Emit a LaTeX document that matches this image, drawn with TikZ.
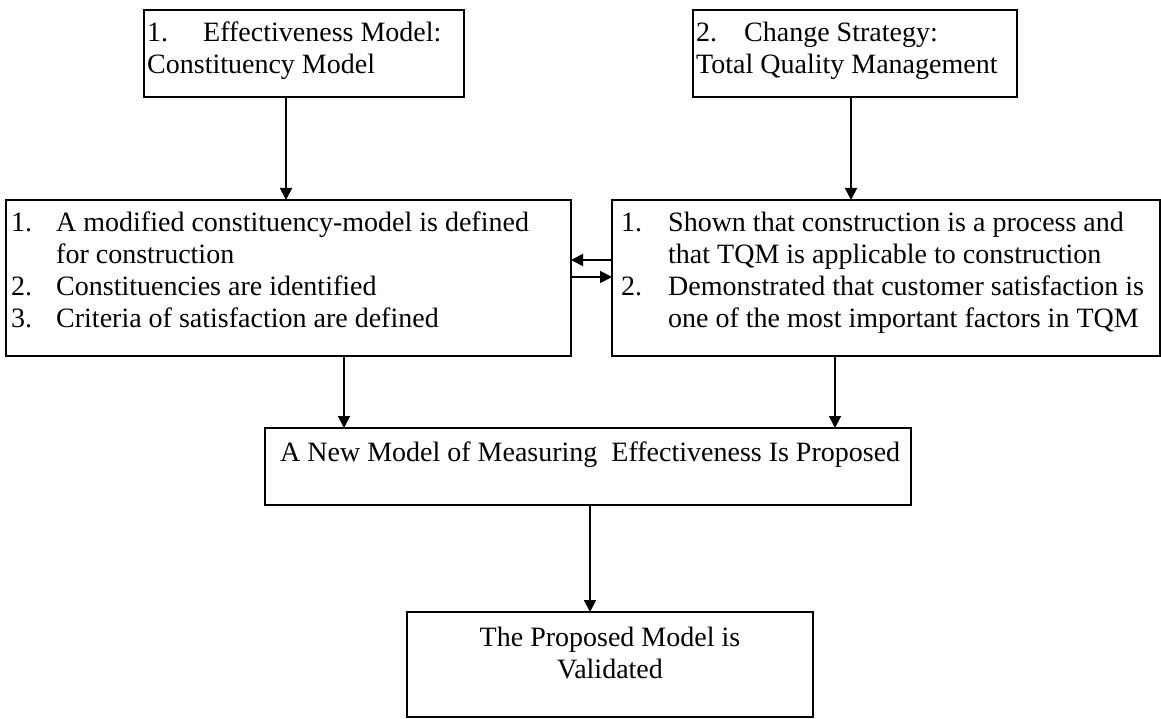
\documentclass[tikz,border=0pt]{standalone}
\usepackage{fontspec}
\setmainfont{Liberation Serif}
\usetikzlibrary{arrows.meta}
\begin{document}
\begin{tikzpicture}[x=1pt,y=-1pt,
  box/.style={draw, line width=1.8pt, rectangle, anchor=north west, inner sep=0pt, outer sep=0pt},
  txt/.style={anchor=base west, inner sep=0pt, font=\fontsize{28}{32}\selectfont},
  ctxt/.style={anchor=base, inner sep=0pt, font=\fontsize{28}{32}\selectfont},
  conn/.style={line width=1.8pt, -{Triangle[length=12pt,width=12pt]}}
]
\useasboundingbox (0,0) rectangle (1161,719);

% boxes
\node[box, minimum width=320pt, minimum height=87pt] (b1) at (144,10) {};
\node[box, minimum width=324pt, minimum height=87pt] (b2) at (693,10) {};
\node[box, minimum width=565pt, minimum height=156pt] (b3) at (6,200) {};
\node[box, minimum width=548pt, minimum height=156pt] (b4) at (612,200) {};
\node[box, minimum width=646pt, minimum height=77pt] (b5) at (265,428) {};
\node[box, minimum width=406pt, minimum height=105pt] (b6) at (407,612) {};

% texts
\node[txt] (t1) at (147,42) {\begin{tabular}[t]{@{}l@{}}\makebox[56pt][l]{1.}Effectiveness Model:\\Constituency Model\end{tabular}};
\node[txt] (t2) at (696,42) {\begin{tabular}[t]{@{}l@{}}\makebox[48pt][l]{2.}Change Strategy:\\Total Quality Management\end{tabular}};
\node[txt] (t3) at (11,232) {\begin{tabular}[t]{@{}p{45pt}@{}l@{}}
1. & A modified constituency-model is defined\\
   & for construction\\
2. & Constituencies are identified\\
3. & Criteria of satisfaction are defined
\end{tabular}};
\node[txt] (t4) at (621,232) {\begin{tabular}[t]{@{}p{47pt}@{}l@{}}
1. & Shown that construction is a process and\\
   & that TQM is applicable to construction\\
2. & Demonstrated that customer satisfaction is\\
   & one of the most important factors in TQM
\end{tabular}};
\node[txt] (t5) at (280,461) {A New Model of Measuring\ \ Effectiveness Is Proposed};
\node[ctxt] (t6) at (610,646) {\begin{tabular}[t]{@{}c@{}}The Proposed Model is\\Validated\end{tabular}};

% connector columns and rows
\coordinate (xa) at (286,0);
\coordinate (xb) at (344,0);
\coordinate (xc) at (851,0);
\coordinate (xd) at (835,0);
\coordinate (xm) at (590,0);
\coordinate (yu) at (0,260);
\coordinate (yd) at (0,277);

% connectors
\draw[conn] (xa |- b1.south) -- (xa |- b3.north);
\draw[conn] (xc |- b2.south) -- (xc |- b4.north);
\draw[conn] (xb |- b3.south) -- (xb |- b5.north);
\draw[conn] (xd |- b4.south) -- (xd |- b5.north);
\draw[conn] (xm |- b5.south) -- (xm |- b6.north);
\draw[conn] (b4.west |- yu) -- (b3.east |- yu);
\draw[conn] (b3.east |- yd) -- (b4.west |- yd);
\end{tikzpicture}
\end{document}
